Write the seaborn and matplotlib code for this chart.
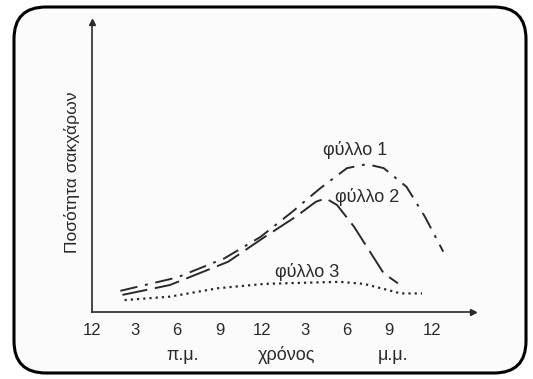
import matplotlib
matplotlib.use("Agg")
import matplotlib.pyplot as plt
from matplotlib.patches import FancyBboxPatch
import seaborn as sns
import pandas as pd

# data (hours since midnight, relative sugar amount)
leaf1_x = [2.0, 6.0, 9.35, 11.9, 14.15, 16.1, 18.0, 19.4, 20.6, 22.2, 23.5, 24.8]
leaf1_y = [7.3, 11.9, 18.5, 25.9, 34.6, 42.6, 49.6, 51.0, 49.6, 43.2, 32.9, 20.8]
leaf2_x = [2.15, 5.5, 9.6, 12.2, 14.4, 15.8, 16.5, 17.3, 18.5, 19.7, 20.6, 21.6]
leaf2_y = [5.9, 9.3, 17.3, 25.9, 32.9, 38.0, 39.2, 36.9, 29.4, 20.2, 13.3, 9.9]
leaf3_x = [2.3, 5.5, 8.9, 12.2, 15.1, 17.5, 19.2, 20.4, 21.8, 23.3]
leaf3_y = [4.1, 5.3, 8.2, 9.7, 10.1, 10.4, 9.7, 8.2, 6.4, 6.4]
series_names = ["φύλλο 1", "φύλλο 2", "φύλλο 3"]
tick_pos = [0, 3, 6, 9, 12, 15, 18, 21, 24]
tick_labels = ["12", "3", "6", "9", "12", "3", "6", "9", "12"]

sns.set_theme(style="white")
plt.rcParams['font.family'] = ['Liberation Sans', 'DejaVu Sans']

fig = plt.figure(figsize=(5.33, 3.79), dpi=100)
fig.patch.set_facecolor("white")
frame = FancyBboxPatch((14 / 533, 6 / 379), 512 / 533, 366 / 379,
                       boxstyle="round,pad=0,rounding_size=0.06",
                       transform=fig.transFigure, facecolor="#fbfbfb",
                       edgecolor="black", linewidth=2.2, mutation_aspect=533 / 379,
                       zorder=-10)
fig.patches.append(frame)

ax = fig.add_axes([92 / 533, 67 / 379, (473 - 92) / 533, (312 - 22) / 379])
ax.set_facecolor("none")
ax.set_zorder(5)

col = "#2a2a2a"
df1 = pd.DataFrame({"x": leaf1_x, "y": leaf1_y})
df2 = pd.DataFrame({"x": leaf2_x, "y": leaf2_y})
df3 = pd.DataFrame({"x": leaf3_x, "y": leaf3_y})
sns.lineplot(data=df1, x="x", y="y", ax=ax, color=col, lw=1.4,
             linestyle=(0, (9, 4, 1.5, 4)), sort=False)
sns.lineplot(data=df2, x="x", y="y", ax=ax, color=col, lw=1.4,
             linestyle=(0, (13, 4)), sort=False)
sns.lineplot(data=df3, x="x", y="y", ax=ax, color=col, lw=1.6,
             linestyle=(0, (1, 1.8)), sort=False)

ax.set_xlim(0, 26.9)
ax.set_ylim(0, 100)
ax.set_xticks(tick_pos)
ax.set_xticklabels(tick_labels, fontsize=12, color=col)
ax.set_yticks([])
ax.tick_params(axis="x", direction="inout", length=6, width=1, color=col, pad=5)
for s in ["top", "right"]:
    ax.spines[s].set_visible(False)
for s in ["left", "bottom"]:
    ax.spines[s].set_color(col)
    ax.spines[s].set_linewidth(1.2)
ax.plot(1, 0, ">", transform=ax.transAxes, color=col, ms=4, clip_on=False)
ax.plot(0, 1, "^", transform=ax.transAxes, color=col, ms=4, clip_on=False)
ax.set_xlabel("")
ax.set_ylabel("")

ax.text(18.56, 55.9, series_names[0], fontsize=13, color=col, ha="center", va="center")
ax.text(19.4, 39.7, series_names[1], fontsize=13, color=col, ha="center", va="center")
ax.text(15.2, 13.8, series_names[2], fontsize=13, color=col, ha="center", va="center")

fig.text(72 / 533, 1 - 172 / 379, "Ποσότητα σακχάρων", rotation=90, fontsize=12.5,
         color=col, ha="center", va="center")
fig.text(183 / 533, 1 - 355 / 379, "π.μ.", fontsize=13, color=col, ha="center", va="center")
fig.text(287 / 533, 1 - 355 / 379, "χρόνος", fontsize=13, color=col, ha="center", va="center")
fig.text(393 / 533, 1 - 355 / 379, "μ.μ.", fontsize=13, color=col, ha="center", va="center")

fig.savefig("out.png", dpi=100)
